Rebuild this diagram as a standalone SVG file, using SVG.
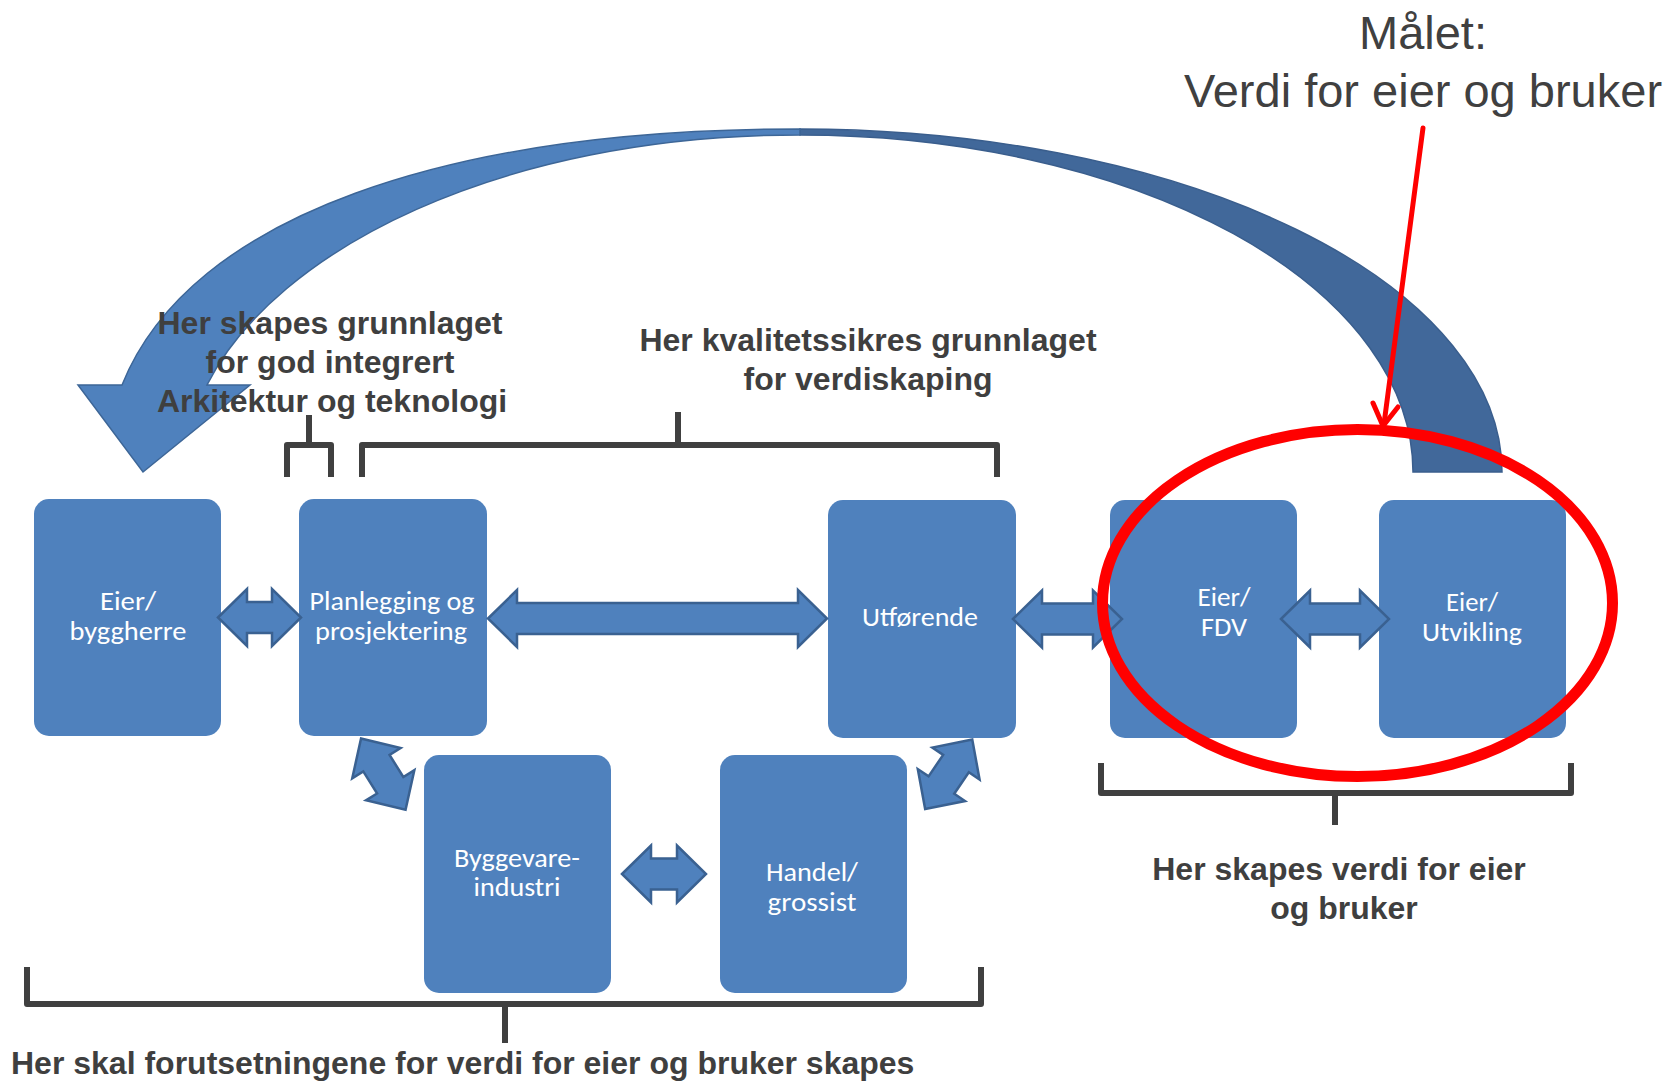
<svg xmlns="http://www.w3.org/2000/svg" width="1675" height="1081" viewBox="0 0 1675 1081">
<style>
.box{fill:#4F81BD}
.bt{fill:#FFFFFF;font-family:Carlito,Lato,"Open Sans",sans-serif;font-size:26px;text-anchor:middle}
.dbl{fill:#4F81BD;stroke:#3A6191;stroke-width:2.5;stroke-linejoin:miter}
.lbl{fill:#3F3F3F;font-family:"Liberation Sans",Arial,sans-serif;font-size:32px;font-weight:bold;text-anchor:middle}
.brk{fill:none;stroke:#404040;stroke-width:6;stroke-linejoin:round;stroke-linecap:butt}
</style>
<rect width="1675" height="1081" fill="#FFFFFF"/>

<g id="curved-arrow">
<path d="M800 129 A702 343 0 0 1 1502 472 L1413 472 A613 337 0 0 0 800 135 Z" fill="#41689A" stroke="#3A5E8D" stroke-width="1.5"/>
<path d="M800 129 C450 129 190 215 122 385 L78 385 L143 472 L250 385 L207 385 C275 250 500 135 800 135 Z" fill="#4F81BD" stroke="#3D6697" stroke-width="1.5"/>
</g>

<g id="brackets">
<path class="brk" d="M287 477 L287 445 L331 445 L331 477 M309 445 L309 415"/>
<path class="brk" d="M362 477 L362 445 L997 445 L997 477 M678 445 L678 412"/>
<path class="brk" d="M1101 763 L1101 793 L1571 793 L1571 763 M1335 793 L1335 825"/>
<path class="brk" d="M27 967 L27 1004 L981 1004 L981 967 M505 1004 L505 1043"/>
</g>

<g id="node-eier-byggherre">
<rect class="box" x="34" y="499" width="187" height="237" rx="15"/>
<text class="bt" x="128" y="610" textLength="56" lengthAdjust="spacingAndGlyphs">Eier/</text>
<text class="bt" x="128" y="640" textLength="117" lengthAdjust="spacingAndGlyphs">byggherre</text>
</g>
<g id="node-planlegging">
<rect class="box" x="299" y="499" width="188" height="237" rx="15"/>
<text class="bt" x="392" y="610" textLength="165" lengthAdjust="spacingAndGlyphs">Planlegging og</text>
<text class="bt" x="391" y="640" textLength="152" lengthAdjust="spacingAndGlyphs">prosjektering</text>
</g>
<g id="node-utforende">
<rect class="box" x="828" y="500" width="188" height="238" rx="15"/>
<text class="bt" x="920" y="626" textLength="116" lengthAdjust="spacingAndGlyphs">Utførende</text>
</g>
<g id="node-eier-fdv">
<rect class="box" x="1110" y="500" width="187" height="238" rx="15"/>
<text class="bt" x="1224" y="606" textLength="53" lengthAdjust="spacingAndGlyphs">Eier/</text>
<text class="bt" x="1224" y="636" textLength="46" lengthAdjust="spacingAndGlyphs">FDV</text>
</g>
<g id="node-eier-utvikling">
<rect class="box" x="1379" y="500" width="187" height="238" rx="15"/>
<text class="bt" x="1472" y="611" textLength="52" lengthAdjust="spacingAndGlyphs">Eier/</text>
<text class="bt" x="1472" y="641" textLength="100" lengthAdjust="spacingAndGlyphs">Utvikling</text>
</g>
<g id="node-byggevare">
<rect class="box" x="424" y="755" width="187" height="238" rx="15"/>
<text class="bt" x="517" y="867" textLength="126" lengthAdjust="spacingAndGlyphs">Byggevare-</text>
<text class="bt" x="517" y="896" textLength="87" lengthAdjust="spacingAndGlyphs">industri</text>
</g>
<g id="node-handel">
<rect class="box" x="720" y="755" width="187" height="238" rx="15"/>
<text class="bt" x="812" y="881" textLength="92" lengthAdjust="spacingAndGlyphs">Handel/</text>
<text class="bt" x="812" y="911" textLength="89" lengthAdjust="spacingAndGlyphs">grossist</text>
</g>

<g id="connectors">
<path class="dbl" d="M218 617.5 L247 589 L247 602 L272 602 L272 589 L301 617.5 L272 646 L272 633 L247 633 L247 646 Z"/>
<path class="dbl" d="M488 618.5 L517 590 L517 603 L798 603 L798 590 L827 618.5 L798 647 L798 634 L517 634 L517 647 Z"/>
<path class="dbl" d="M1013 619 L1042 590.5 L1042 603.5 L1093 603.5 L1093 590.5 L1122 619 L1093 647.5 L1093 634.5 L1042 634.5 L1042 647.5 Z"/>
<path class="dbl" d="M1281 619 L1310 590.5 L1310 603.5 L1360 603.5 L1360 590.5 L1389 619 L1360 647.5 L1360 634.5 L1310 634.5 L1310 647.5 Z"/>
<path class="dbl" d="M622 874 L651 845.5 L651 858.5 L677 858.5 L677 845.5 L706 874 L677 902.5 L677 889.5 L651 889.5 L651 902.5 Z"/>
<path class="dbl" transform="translate(383.3 774.2) rotate(58)" d="M-42 0 L-13 -28.5 L-13 -15.5 L13 -15.5 L13 -28.5 L42 0 L13 28.5 L13 15.5 L-13 15.5 L-13 28.5 Z"/>
<path class="dbl" transform="translate(948.7 774.3) rotate(-55.9)" d="M-42 0 L-13 -28.5 L-13 -15.5 L13 -15.5 L13 -28.5 L42 0 L13 28.5 L13 15.5 L-13 15.5 L-13 28.5 Z"/>
</g>

<g id="labels">
<text class="lbl" x="330" y="334">Her skapes grunnlaget</text>
<text class="lbl" x="330" y="373">for god integrert</text>
<text class="lbl" x="332" y="412">Arkitektur og teknologi</text>
<text class="lbl" x="868" y="351">Her kvalitetssikres grunnlaget</text>
<text class="lbl" x="868" y="390">for verdiskaping</text>
<text class="lbl" x="1339" y="880">Her skapes verdi for eier</text>
<text class="lbl" x="1344" y="919">og bruker</text>
<text class="lbl" x="11" y="1074" style="text-anchor:start">Her skal forutsetningene for verdi for eier og bruker skapes</text>
</g>

<g id="goal">
<ellipse cx="1357.5" cy="603" rx="255" ry="173.5" fill="none" stroke="#FF0000" stroke-width="11"/>
<path d="M1423 128 L1384 424" fill="none" stroke="#FF0000" stroke-width="5" stroke-linecap="round"/>
<path d="M1373 403 L1383 426 L1398 407" fill="none" stroke="#FF0000" stroke-width="5" stroke-linecap="round" stroke-linejoin="round"/>
<text x="1423" y="49" fill="#404040" font-family="'Liberation Sans',Arial,sans-serif" font-size="47" text-anchor="middle">Målet:</text>
<text x="1423" y="107" fill="#404040" font-family="'Liberation Sans',Arial,sans-serif" font-size="47" text-anchor="middle">Verdi for eier og bruker</text>
</g>
</svg>
